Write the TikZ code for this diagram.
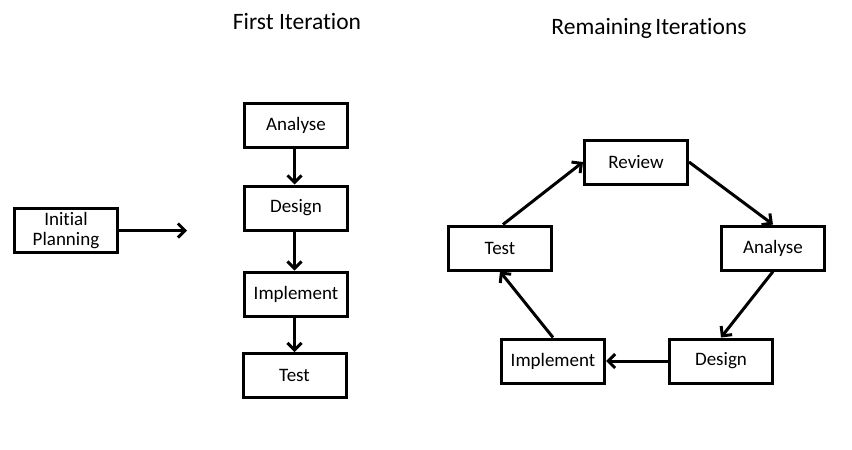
\documentclass[tikz,border=0pt]{standalone}
\usepackage{fontspec}
\setmainfont{Carlito}[Ligatures=NoCommon]
\usetikzlibrary{arrows.meta}

\begin{document}
\begin{tikzpicture}
  [x=1pt,y=-1pt,
   box/.style={draw,line width=3pt,minimum width=103pt,minimum height=44pt,
     inner sep=1pt,font=\fontsize{19}{22}\selectfont,align=center},
   title/.style={font=\fontsize{23.5}{26}\selectfont},
   flow/.style={line width=3pt,-{Straight Barb[length=7pt,width=14pt]}}]
  \useasboundingbox (0,0) rectangle (852,450);

  \node[title] (tfirst) at (297,22) {First Iteration};
  \node[title] (trest)  at (649,28) {Remaining\hspace{-2pt} Iterations};

  \node[box] (plan)   at (66,230.5)  {Initial\\[-1.5pt]Planning};
  \coordinate (planend) at (187,230.5);

  \node[box] (fanal)  at (296,125) {Analyse};
  \node[box] (fdes)   at (296,208) {Design};
  \node[box] (fimpl)  at (296,294) {Implement};
  \node[box] (ftest)  at (294.5,375.5) {Test};

  \node[box] (rrev)   at (636,162) {Review};
  \node[box] (ranal)  at (773,248) {Analyse};
  \node[box] (rdes)   at (721,361) {Design};
  \node[box] (rimpl)  at (553,361) {Implement};
  \node[box] (rtest)  at (500,248) {Test};

  \draw[flow] (plan) -- (planend);
  \foreach \from/\to in {fanal/fdes,fdes/fimpl,fimpl/ftest}
    \draw[flow] ([xshift=-1.5pt]\from.south) -- ([xshift=-1.5pt]\from.south |- \to.north);

  \draw[flow] (rtest.north) ++(3pt,0) -- (rrev.west);
  \draw[flow] (rrev.east) -- (ranal.north);
  \draw[flow] (ranal.south) -- (rdes.north);
  \draw[flow] (rdes.west) -- (rimpl.east);
  \draw[flow] (rimpl.north) -- (rtest.south);
\end{tikzpicture}
\end{document}
